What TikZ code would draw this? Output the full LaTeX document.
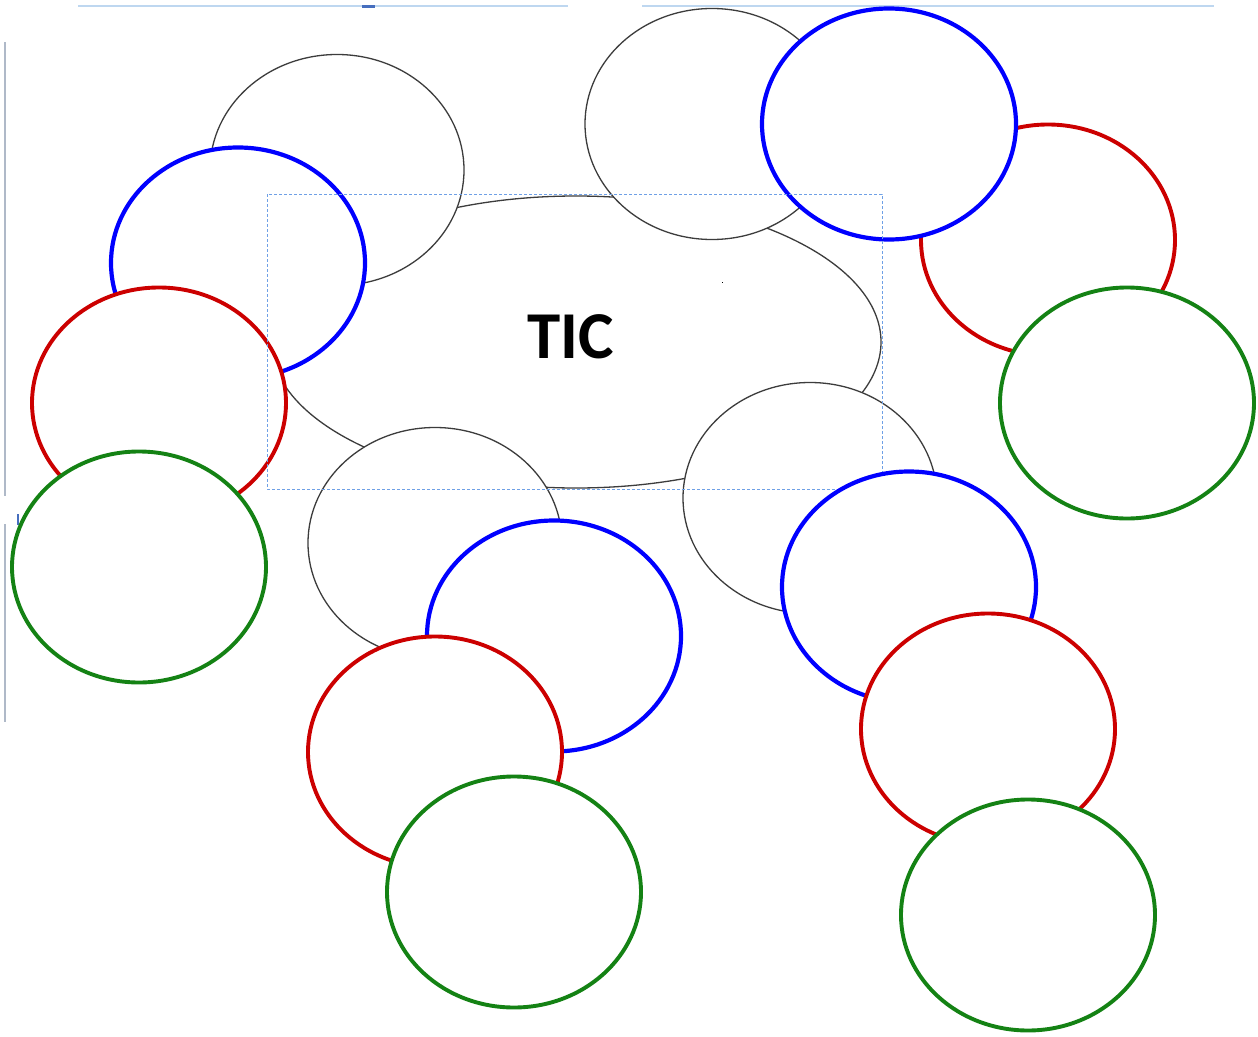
\documentclass[tikz,border=0pt]{standalone}
\usepackage{fontspec}
\newfontfamily\carlito{Carlito}
\usetikzlibrary{shapes.geometric}
\definecolor{ellgray}{RGB}{60,60,60}
\definecolor{ellblue}{RGB}{0,0,255}
\definecolor{ellred}{RGB}{204,0,0}
\definecolor{ellgreen}{RGB}{20,130,20}
\definecolor{dashblue}{RGB}{110,160,230}
\definecolor{rulerblue}{RGB}{190,215,240}
\definecolor{rulergray}{RGB}{175,185,200}
\definecolor{markblue}{RGB}{70,110,190}
\tikzset{
  ell/.style={ellipse, fill=white, inner sep=0pt, minimum width=254pt, minimum height=231pt},
  grayell/.style={ell, draw=ellgray, line width=1.3pt},
  blueell/.style={ell, draw=ellblue, line width=4.2pt},
  redell/.style={ell, draw=ellred, line width=3.9pt},
  greenell/.style={ell, draw=ellgreen, line width=3.9pt},
  mainell/.style={ellipse, fill=white, draw=ellgray, line width=1.3pt, inner sep=0pt, minimum width=610pt, minimum height=292pt},
  dashbox/.style={draw=dashblue, line width=0.9pt, dash pattern=on 3pt off 2pt},
  ruler/.style={draw=rulerblue, line width=1.2pt},
  vruler/.style={draw=rulergray, line width=1.2pt},
  title/.style={font=\carlito\bfseries\fontsize{67}{67}\selectfont, inner sep=0pt}
}
\begin{document}
\begin{tikzpicture}[x=1pt,y=-1pt]
\useasboundingbox (0,0) rectangle (1258,1036);
\fill[white] (0,0) rectangle (1258,1036);
% rulers
\coordinate (r1a) at (78,6); \coordinate (r1b) at (568,6);
\coordinate (r2a) at (642,6); \coordinate (r2b) at (1214,6);
\draw[ruler] (r1a) -- (r1b);
\draw[ruler] (r2a) -- (r2b);
\fill[markblue] (362,5) rectangle (375,8);
\coordinate (v1a) at (5,42); \coordinate (v1b) at (5,496);
\coordinate (v2a) at (5,524); \coordinate (v2b) at (5,722);
\draw[vruler] (v1a) -- (v1b);
\draw[vruler] (v2a) -- (v2b);
\fill[markblue] (17,514) rectangle (19,525);
% central ellipse
\node[mainell] (tic) at (576,342) {};
\node[title] (tictext) at (571,337) {TIC};
\fill[black] (721.5,281.5) rectangle (723,283);
% left group
\node[grayell] (gTL) at (337,170) {};
\node[blueell] (bL) at (238,263) {};
\node[redell] (rL) at (159,403) {};
\node[greenell] (gnL) at (139,567) {};
% top-right group
\node[grayell] (gTM) at (712,124) {};
\node[redell] (rTR) at (1048,240) {};
\node[blueell] (bTR) at (889,124) {};
\node[greenell] (gnR) at (1127,403) {};
% bottom-middle group
\node[grayell] (gBL) at (435,543) {};
\node[blueell] (bBM) at (554,636) {};
\node[redell] (rBM) at (435,752) {};
\node[greenell] (gnBM) at (514,892) {};
% bottom-right group
\node[grayell] (gBR) at (810,498) {};
\draw[dashbox] (267,194) rectangle (882,489);
\node[blueell] (bBR) at (909,587) {};
\node[redell] (rBR) at (988,729) {};
\node[greenell] (gnBR) at (1028,915) {};
\end{tikzpicture}
\end{document}
